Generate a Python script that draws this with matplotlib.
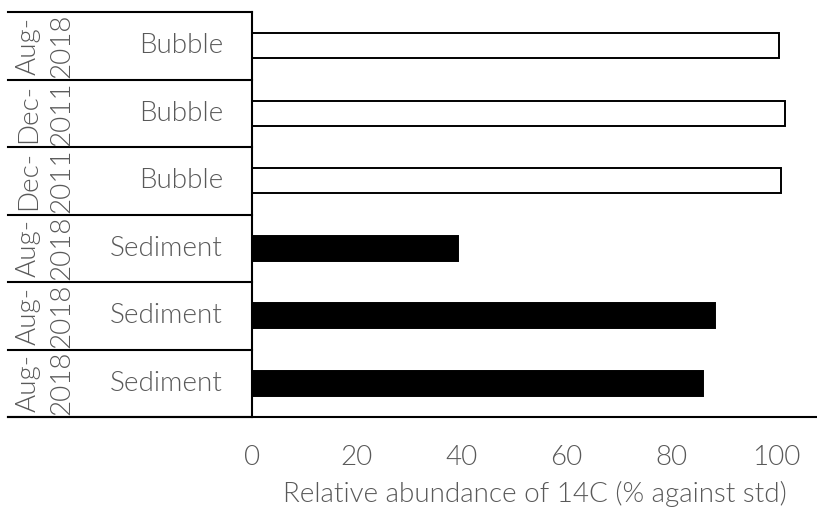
import matplotlib
matplotlib.use("Agg")
import matplotlib.pyplot as plt
from matplotlib.lines import Line2D

# --- DATA (bottom to top) ---
dates    = ["Aug-\n2018", "Aug-\n2018", "Aug-\n2018", "Dec-\n2011", "Dec-\n2011", "Aug-\n2018"]
kinds    = ["Sediment", "Sediment", "Sediment", "Bubble", "Bubble", "Bubble"]
values   = [86.1, 88.4, 39.3, 101.0, 101.7, 100.6]
xticks   = [0, 20, 40, 60, 80, 100]
xlabel   = "Relative abundance of 14C (% against std)"

plt.rcParams['font.family'] = ['Lato', 'DejaVu Sans']
GREY = '#595959'
FS = 20
FW = 300
W, H = 817, 511
fig = plt.figure(figsize=(W / 100, H / 100), dpi=100)

x0, x1, ytop, ybot = 252, 817, 12, 417
ax = fig.add_axes([x0 / W, 1 - ybot / H, (x1 - x0) / W, (ybot - ytop) / H])

ypos = list(range(len(values)))
faces = ['black' if k == "Sediment" else 'white' for k in kinds]
ax.barh(ypos, values, height=0.37, color=faces, edgecolor='black', linewidth=1.4)

ax.set_xlim(0, (x1 - x0) / 5.24)
ax.set_ylim(-0.5, len(values) - 0.5)
ax.set_xticks(xticks)
ax.set_xticklabels([str(t) for t in xticks], fontsize=FS, color=GREY, fontweight=FW)
ax.tick_params(axis='x', length=0, pad=20)
ax.set_yticks([])
for s in ['top', 'right', 'bottom']:
    ax.spines[s].set_visible(False)
ax.spines['left'].set_linewidth(1.5)
ax.set_xlabel(xlabel, fontsize=FS, color=GREY, fontweight=FW, labelpad=8)

def px(v):
    return (v - x0) / (x1 - x0)

tr = ax.get_yaxis_transform()
# category box lines
for b in [i - 0.5 for i in range(len(values) + 1)]:
    ax.add_line(Line2D([px(8), px(x0)], [b, b], transform=tr, color='black', lw=1.5, clip_on=False))
# bottom axis line across full width
ax.add_line(Line2D([px(8), 1], [-0.5, -0.5], transform=tr, color='black', lw=1.5, clip_on=False))

for y, d, k in zip(ypos, dates, kinds):
    ax.text(px(45), y, d, transform=tr, rotation=90, ha='center', va='center',
            fontsize=FS, color=GREY, fontweight=FW, linespacing=1.4)
    ax.text(px(223), y, k, transform=tr, ha='right', va='center',
            fontsize=FS, color=GREY, fontweight=FW)

fig.savefig("out.png", dpi=100)
